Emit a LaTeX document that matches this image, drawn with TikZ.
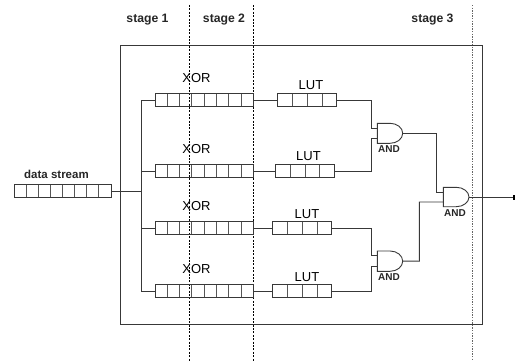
\documentclass[tikz,border=0pt]{standalone}
\usepackage{fontspec}
\setmainfont{Liberation Sans}
\usetikzlibrary{calc}
\definecolor{ink}{gray}{0.22}
\tikzset{
  wire/.style={draw=ink,line width=0.9pt},
  framebox/.style={draw=ink,line width=0.9pt,inner sep=0pt,outer sep=0pt},
  regbox/.style={draw=ink,line width=0.9pt,inner sep=0pt,outer sep=0pt,minimum height=12.4pt},
  divider/.style={draw=ink!85,line width=0.9pt},
  gatebox/.style={inner sep=0pt,outer sep=0pt},
  stagesep/.style={draw=black,line width=0.7pt,dash pattern=on 2pt off 1.4pt},
  stagesepb/.style={draw=black!60,line width=0.9pt,dash pattern=on 1.4pt off 1.2pt},
  stagelabel/.style={font=\fontsize{12.2}{14}\selectfont\bfseries,text=black!85,inner sep=0pt},
  partlabel/.style={font=\fontsize{13}{14}\selectfont,text=black,inner sep=0pt},
  streamlabel/.style={font=\fontsize{11.5}{12}\selectfont\bfseries,text=black!85,inner sep=0pt},
  gatelabel/.style={font=\fontsize{10}{11}\selectfont\bfseries,text=black!85,inner sep=0pt},
  endmark/.style={fill=black,inner sep=0pt,minimum width=2.5pt,minimum height=5pt},
}
% name, left x, right x, centre y, cells
\newcommand{\shiftreg}[5]{%
  \node[regbox,minimum width={(#3)-(#2)}] (#1) at ({((#2)+(#3))/2},#4) {};
  \foreach \k in {1,...,\numexpr#5-1\relax}
    \draw[divider] ($(#1.south west)!{\k/#5}!(#1.south east)$) -- ($(#1.north west)!{\k/#5}!(#1.north east)$);
}
% name, left x, right x, top y, bottom y, upper input y, lower input y
\newcommand{\andgate}[7]{%
  \node[gatebox,minimum width={(#3)-(#2)},minimum height={(#5)-(#4)}] (#1) at ({((#2)+(#3))/2},{((#4)+(#5))/2}) {};
  \draw[wire] (#2,#4) -- ({(#2)+0.5*((#3)-(#2))},#4)
     arc[start angle=-90,end angle=90,x radius={0.5*((#3)-(#2))},y radius={0.5*((#5)-(#4))}]
     -- (#2,#5) -- cycle;
  \coordinate (#1-a) at (#2,#6);
  \coordinate (#1-b) at (#2,#7);
}
\begin{document}
\begin{tikzpicture}[x=1pt,y=-1pt]
\useasboundingbox (0,0) rectangle (515,362);
\node[framebox,minimum width=362pt,minimum height=279pt] (frame) at (301.7,184.5) {};

\coordinate (s1t) at (189.5,5); \coordinate (s1b) at (189.5,361);
\coordinate (s2t) at (253.3,5); \coordinate (s2b) at (253.3,361);
\coordinate (s3t) at (472.8,5); \coordinate (s3b) at (472.8,361);
\draw[stagesep] (s1t) -- (s1b);
\draw[stagesep] (s2t) -- (s2b);
\draw[stagesepb] (s3t) -- (s3b);

\node[stagelabel] (st1) at (147.5,20) {stage 1};
\node[stagelabel] (st2) at (224,20) {stage 2};
\node[stagelabel] (st3) at (432.5,20) {stage 3};

\shiftreg{data}{14}{111}{191}{8}
\node[streamlabel] (datal) at (56.5,174.5) {data stream};

\shiftreg{xa}{155}{253.5}{100}{8}
\shiftreg{xb}{155}{253.5}{171}{8}
\shiftreg{xc}{155}{253.5}{228}{8}
\shiftreg{xd}{155}{253.5}{291}{8}
\node[partlabel] (xal) at (196.5,78) {XOR};
\node[partlabel] (xbl) at (196.5,149) {XOR};
\node[partlabel] (xcl) at (196.5,206) {XOR};
\node[partlabel] (xdl) at (196.5,269) {XOR};

\shiftreg{la}{277.7}{336.7}{100}{4}
\shiftreg{lb}{275.3}{334.7}{171}{4}
\shiftreg{lc}{272.7}{331.7}{228}{4}
\shiftreg{ld}{272.7}{331.7}{291}{4}
\node[partlabel] (lal) at (311,85) {LUT};
\node[partlabel] (lbl) at (308.5,156) {LUT};
\node[partlabel] (lcl) at (307,214) {LUT};
\node[partlabel] (ldl) at (307,277) {LUT};

\andgate{ga}{377.3}{402.7}{123.3}{143.3}{128.5}{138.3}
\andgate{gb}{377.3}{402.7}{251}{271.3}{255.7}{266}
\andgate{gc}{443.3}{469}{187.3}{206.7}{192.3}{202}
\node[gatelabel] (gal) at (389,149.5) {AND};
\node[gatelabel] (gbl) at (389,277.5) {AND};
\node[gatelabel] (gcl) at (455,213.5) {AND};

\coordinate (bus) at (141,191);
\draw[wire] (data.east) -- (bus);
\draw[wire] (xa.west) -- (141,100) -- (141,291) -- (xd.west);
\draw[wire] (bus |- xb.west) -- (xb.west);
\draw[wire] (bus |- xc.west) -- (xc.west);

\draw[wire] (xa.east) -- (la.west);
\draw[wire] (xb.east) -- (lb.west);
\draw[wire] (xc.east) -- (lc.west);
\draw[wire] (xd.east) -- (ld.west);

\draw[wire] (la.east) -- (371,100) |- (ga-a);
\draw[wire] (lb.east) -- (371,171) |- (ga-b);
\draw[wire] (lc.east) -- (371,228) |- (gb-a);
\draw[wire] (ld.east) -- (371,291) |- (gb-b);

\draw[wire] (ga.east) -- (436,133.3) |- (gc-a);
\draw[wire] (gb.east) -- (419.3,261.2) |- (gc-b);

\node[endmark] (out) at (514,197) {};
\draw[wire] (gc.east) -- (out.west);
\end{tikzpicture}
\end{document}
